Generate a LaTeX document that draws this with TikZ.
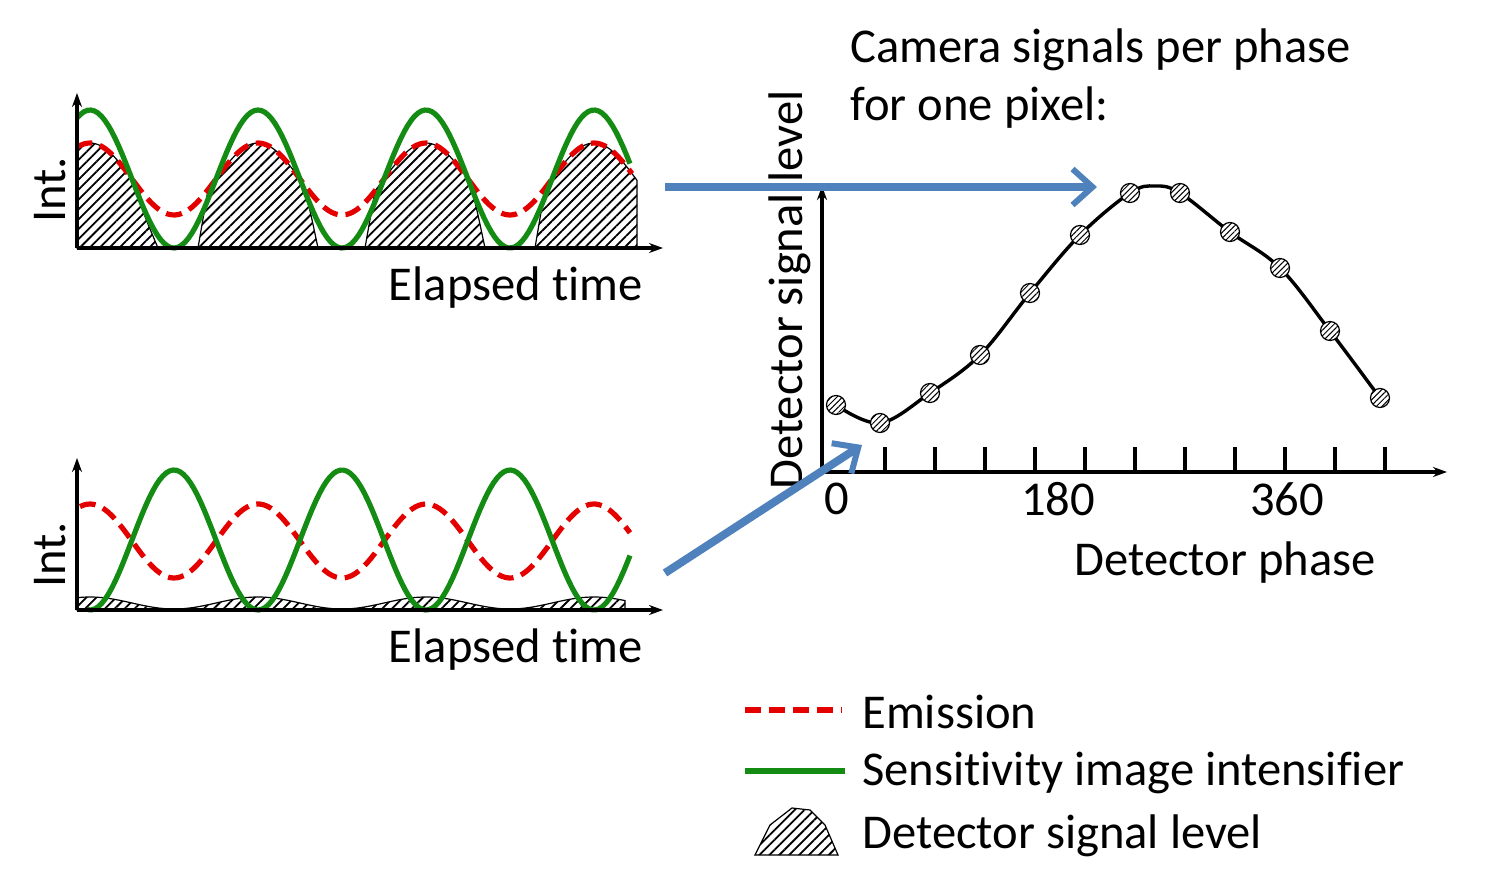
\documentclass[tikz,border=0pt]{standalone}
\usepackage{fontspec}
\setmainfont{Carlito}[RawFeature={-liga;-clig;-dlig}]
\usetikzlibrary{arrows.meta,patterns.meta}
\definecolor{grn}{RGB}{20,140,20}
\definecolor{blu}{RGB}{79,129,189}
\begin{document}
\begin{tikzpicture}[x=0.5pt,y=-0.5pt,
  ax/.style={line width=1.6pt,-{Stealth[length=7pt,width=5pt]}},
  emis/.style={red!90!black,line width=2.6pt,dash pattern=on 8pt off 4pt},
  sens/.style={grn,line width=2.6pt},
  hatch/.style={draw=black,line width=0.6pt,pattern={Lines[angle=45,distance=3.5pt,line width=0.9pt]}},
  bigarr/.style={blu,line width=4pt,-{Straight Barb[length=10pt,width=18pt,line width=3pt]}},
  lbl/.style={font=\fontsize{24.3}{28}\selectfont,inner sep=0pt}]
\useasboundingbox (0,0) rectangle (1485,872);
% ---------- top plot ----------
\foreach \p in {258,425}{
  \fill[hatch] (\p-60,248) -- plot[domain=\p-50:\p+45,samples=40] (\x,{179-36*cos(2.142857*(\x-258))}) .. controls (\p+52,210) .. (\p+60,248) -- cycle;}
\fill[hatch] (77,248) -- plot[domain=77:135,samples=30] (\x,{179-36*cos(2.142857*(\x-258))}) .. controls (142,210) .. (158,248) -- cycle;
\fill[hatch] (535,248) -- plot[domain=545:637,samples=40] (\x,{179-36*cos(2.142857*(\x-258))}) -- (637,248) -- cycle;
\draw[emis] plot[domain=77:632,samples=160] (\x,{179-36*cos(2.142857*(\x-258))});
\draw[sens] plot[domain=77:630,samples=160] (\x,{179-69*cos(2.142857*(\x-258))});
\coordinate (o1) at (77,248);
\draw[ax] (o1) -- (77,93);
\draw[ax] (o1) -- (663,248);
\node[lbl,rotate=90] (int1) at (50,190) {Int.};
\node[lbl,anchor=east] (el1) at (643,288) {Elapsed time};
% ---------- bottom plot ----------
\fill[hatch] (77,610) -- plot[domain=77:625,samples=160] (\x,{610-7-6*cos(2.142857*(\x-258))}) -- (625,610) -- cycle;
\draw[emis] plot[domain=80:630,samples=160] (\x,{541-37*cos(2.142857*(\x-258))});
\draw[sens] plot[domain=88:630,samples=160] (\x,{540+70*cos(2.142857*(\x-258))});
\coordinate (o2) at (77,610);
\draw[ax] (o2) -- (77,458);
\draw[ax] (o2) -- (663,610);
\node[lbl,rotate=90] (int2) at (50,555) {Int.};
\node[lbl,anchor=east] (el2) at (643,650) {Elapsed time};
% ---------- right plot ----------
\coordinate (o3) at (822,472);
\draw[ax] (o3) -- (822,186);
\draw[ax] (o3) -- (1447,472);
\foreach \t in {885,935,...,1385} \draw[line width=1.6pt] (\t,447) -- (\t,472);
\node[lbl] (t0) at (837,499) {0};
\node[lbl] (t180) at (1058,499) {180};
\node[lbl] (t360) at (1287,499) {360};
\node[lbl,anchor=west] (dp) at (1074,563) {Detector phase};
\node[lbl,rotate=90] (dsl) at (790,290) {Detector signal level};
\node[lbl,anchor=west] (cam1) at (850,50) {Camera signals per phase};
\node[lbl,anchor=west] (cam2) at (850,108) {for one pixel:};
\draw[line width=1.7pt] plot[smooth,tension=0.6] coordinates {(836,405) (880,423) (930,393) (980,355) (1030,293) (1080,235) (1130,193) (1155,186) (1180,193) (1230,232) (1280,268) (1330,331) (1380,398)};
\foreach \px/\py [count=\i] in {836/405,880/423,930/393,980/355,1030/293,1080/235,1130/193,1180/193,1230/232,1280/268,1330/331,1380/398}
  \node[circle,minimum size=9.5pt,inner sep=0pt,draw=black,line width=0.6pt,fill=white,
        postaction={pattern={Lines[angle=45,distance=2pt,line width=0.5pt]}}] (m\i) at (\px,\py) {};
% ---------- arrows ----------
\coordinate (a1s) at (665,187); \coordinate (a1e) at (1097,187);
\coordinate (a2s) at (665,573); \coordinate (a2e) at (862,445);
\draw[bigarr] (a1s) -- (a1e);
\draw[bigarr] (a2s) -- (a2e);
% ---------- legend ----------
\coordinate (l1a) at (745,710); \coordinate (l1b) at (842,710);
\draw[emis] (l1a) -- (l1b);
\node[lbl,anchor=west] (le1) at (862,712) {Emission};
\coordinate (l2a) at (745,771); \coordinate (l2b) at (845,771);
\draw[sens] (l2a) -- (l2b);
\node[lbl,anchor=west] (le2) at (862,773) {Sensitivity image intensifier};
\fill[hatch] (755,855) -- (770,825) -- (792,808) -- (810,810) -- (825,825) -- (838,855) -- cycle;
\node[lbl,anchor=west] (le3) at (862,836) {Detector signal level};
\end{tikzpicture}
\end{document}
